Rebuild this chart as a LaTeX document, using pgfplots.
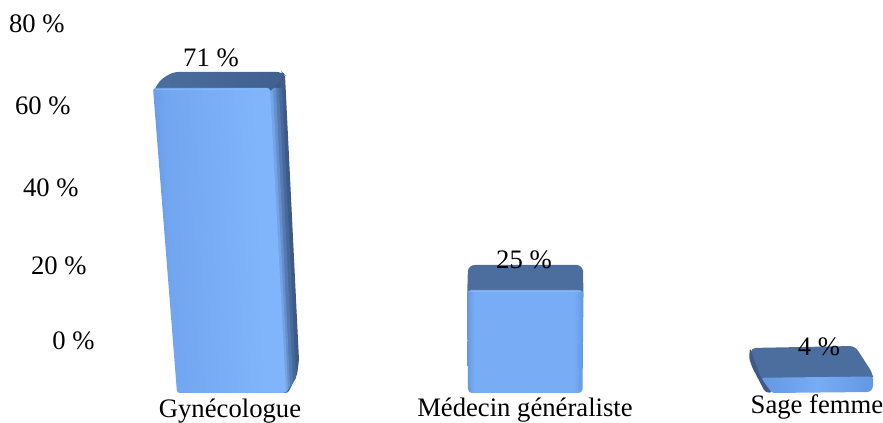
\documentclass[border=0pt]{standalone}
\usepackage{pgfplots}
\pgfplotsset{compat=1.18}
\usepackage{fontspec}
\setmainfont{Liberation Serif}
\definecolor{topface}{HTML}{4C6E9E}
\definecolor{topdark}{HTML}{40608E}
\definecolor{sidedark}{HTML}{3E5B88}
\definecolor{frontlo}{HTML}{6497E2}
\definecolor{fronthi}{HTML}{80B4FB}
\definecolor{frontmid}{HTML}{78ACF5}
\definecolor{rimlight}{HTML}{86B6F6}
% Front faces: darker rim at the left, light body
\pgfdeclarehorizontalshading{tallfront}{100bp}{
  color(0bp)=(frontlo); color(25bp)=(frontlo); color(32bp)=(frontmid!70!frontlo);
  color(65bp)=(fronthi); color(75bp)=(fronthi); color(100bp)=(fronthi)}
\pgfdeclarehorizontalshading{squarefront}{100bp}{
  color(0bp)=(frontlo); color(25bp)=(frontlo); color(28bp)=(frontmid);
  color(71bp)=(frontmid); color(75bp)=(frontlo); color(100bp)=(frontlo)}
\pgfdeclarehorizontalshading{flatfront}{100bp}{
  color(0bp)=(frontlo); color(25bp)=(frontlo); color(50bp)=(frontmid);
  color(75bp)=(frontlo); color(100bp)=(frontlo)}
\newcommand{\chartfont}{\fontsize{20}{24}\selectfont}
% Tick label set in a box of fixed height, so a raise moves the text alone
\newcommand{\lab}[2]{\raisebox{#1}[14pt][5pt]{#2}}
\pgfplotsset{
  bar panel/.style={
    hide axis, scale only axis, clip=false,
    width=662.25pt, height=317.25pt,
    xmin=0, xmax=883,
    anchor=south west, at={(0pt,0pt)},
    /pgf/number format/assume math mode=true,
  },
  value label/.style={
    draw=none, mark=none,
    nodes near coords={\pgfmathprintnumber{\pgfplotspointmeta}~\%},
    every node near coord/.append style={
      font=\chartfont, text=black, anchor=south, inner sep=0pt, yshift=15.5pt},
  },
}
\begin{document}
\begin{tikzpicture}
\path[use as bounding box] (0,0) rectangle (662.25pt,317.25pt);

% Tall bar: its own vertical scale, being nearest to the viewer
\begin{axis}[bar panel, ymin=-6.983, ymax=91.48]
  % side face, then nested strips that lighten towards the front edge
  \addplot[draw=none, fill=sidedark, rounded corners=2pt]
    coordinates {(266,71) (282,74.72) (285,74.02) (299,7.68) (297,4.19) (288,0) (280,0)} --cycle;
  \addplot[draw=none, fill=sidedark!85!fronthi]
    coordinates {(268,71) (282,71) (296,3.5) (286,0)} --cycle;
  \addplot[draw=none, fill=sidedark!65!fronthi]
    coordinates {(268,71) (279,71) (293,2.5) (286,0)} --cycle;
  \addplot[draw=none, fill=sidedark!40!fronthi]
    coordinates {(268,71) (276,71) (290,1.5) (286,0)} --cycle;
  \addplot[draw=none, fill=sidedark!18!fronthi]
    coordinates {(268,71) (273,71) (288,0.8) (285,0)} --cycle;
  % top face
  \addplot[draw=none, left color=topface, right color=topdark, rounded corners=4pt]
    coordinates {(153,70) (160,72.86) (173,74.72) (282,74.72) (285,74.02) (270,70)} --cycle;
  % front face
  \addplot[draw=none, shade, shading=tallfront, shading angle=2, rounded corners=2pt]
    coordinates {(153,71) (270,71) (286,0) (177,0)} --cycle;
  % lit edge along the top of the front face
  \addplot[rimlight, line width=1pt] coordinates {(156,70.6) (266,70.6)};
  % value
  \addplot[value label] coordinates {(211,71)};
\end{axis}

% Two shorter bars
\begin{axis}[bar panel, ymin=-7.282, ymax=95.388]
  % middle bar: top face
  \addplot[draw=none, fill=topface, rounded corners=5pt]
    coordinates {(467,22) (468,31.07) (583,31.07) (583.5,22)} --cycle;
  % middle bar: front face
  \addplot[draw=none, shade, shading=squarefront, rounded corners=3pt]
    coordinates {(467,25) (583.5,25) (582.5,0) (468,0)} --cycle;
  \addplot[rimlight, line width=1pt] coordinates {(469,24.7) (581,24.7)};
  \addplot[value label] coordinates {(524,25)};

  % flat bar: left side
  \addplot[draw=none, fill=sidedark, rounded corners=2pt]
    coordinates {(750,10.92) (749,8.5) (752,6.31) (765,0.24) (772,0) (766,4)} --cycle;
  % flat bar: top face
  \addplot[draw=none, fill=topface, rounded corners=4pt]
    coordinates {(750,10.92) (855,11.41) (873,4.6) (873,3) (762,3)} --cycle;
  % flat bar: front face
  \addplot[draw=none, shade, shading=flatfront, rounded corners=2pt]
    coordinates {(761,3.7) (873,4) (873,1.21) (870,0.24) (772,0)} --cycle;
  \addplot[value label] coordinates {(819,4)};
\end{axis}

% Percentage scale and category names
\begin{axis}[
  scale only axis, clip=false,
  at={(70.5pt,21pt)}, anchor=south west,
  width=591.75pt, height=296.25pt,
  xmin=94, xmax=883,
  ymin=-13.88, ymax=85.8,
  axis line style={draw=none}, major tick length=0pt,
  xtick={230,525,817}, ytick={0,20,40,60,80},
  axis x line*=bottom, axis y line*=left,
  xticklabels={\lab{-0.5pt}{Gynécologue}, \lab{0.25pt}{Médecin généraliste}, \lab{3pt}{Sage femme}},
  yticklabels={
    \lab{-0.75pt}{0~\%},
    \lab{-3.75pt}{20~\%}\hspace*{6pt},
    \lab{-4.5pt}{40~\%}\hspace*{12pt},
    \lab{-3pt}{60~\%}\hspace*{18pt},
    \lab{-0.75pt}{80~\%}\hspace*{22.5pt}},
  tick label style={font=\chartfont, text=black},
  xticklabel style={yshift=1pt},
  yticklabel style={xshift=4pt, yshift=-1.9pt},
]
\end{axis}
\end{tikzpicture}
\end{document}
